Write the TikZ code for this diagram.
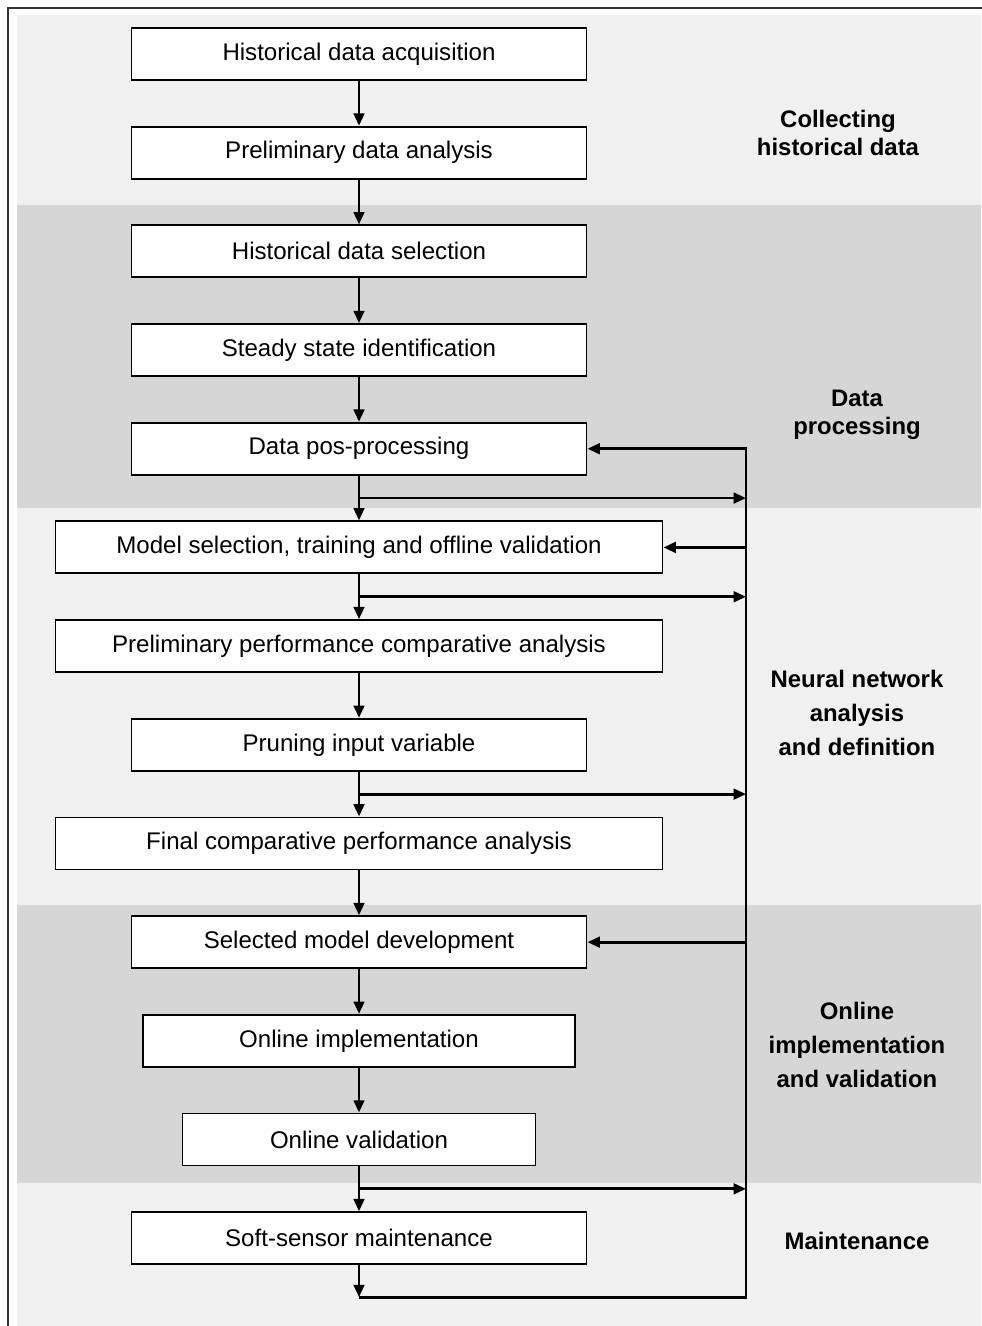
\documentclass[tikz,border=0pt]{standalone}
\usepackage{fontspec}
\setmainfont{Liberation Sans}
\usepackage{tikz}
\usetikzlibrary{arrows.meta,positioning,calc}

\begin{document}
\begin{tikzpicture}[
    % --- STYLES ---
    stage/.style={
        rectangle, draw=black, fill=white,
        line width=1.1pt,
        minimum width=9.1cm,
        minimum height=1.04cm,
        align=center, inner sep=2pt,
        font=\fontsize{13.7}{16}\selectfont
    },
    wide/.style={stage, minimum width=12.14cm},
    phase/.style={align=center, font=\bfseries\fontsize{13.6}{16}\selectfont},
    phasethree/.style={align=center, font=\bfseries\fontsize{13.6}{19.3}\selectfont},
    flow/.style={-{Triangle[length=7pt,width=6pt]}, line width=1.6pt},
    bandlight/.style={fill=black!6},
    banddark/.style={fill=black!16}
]

% ===== 1. FRAME & BANDS =====
\useasboundingbox (0,0) rectangle (19.62,-26.52);
\fill[bandlight] (0.34,-0.3) rectangle (19.62,-4.1);
\fill[banddark] (0.34,-4.1) rectangle (19.62,-10.16);
\fill[bandlight] (0.34,-10.16) rectangle (19.62,-18.1);
\fill[banddark] (0.34,-18.1) rectangle (19.62,-23.66);
\fill[bandlight] (0.34,-23.66) rectangle (19.62,-26.52);
\draw[line width=1.3pt, black!80] (0.16,-26.6) -- (0.16,-0.16) -- (19.7,-0.16);

% ===== 2. STAGE NODES =====
\def\xAxis{7.18}
\def\xBus{14.92}
\def\gap{0.895cm}

\node[stage] (acq) at (\xAxis,-1.08) {Historical data acquisition};
\node[stage, below=\gap of acq] (pre) {Preliminary data analysis};
\node[stage, below=\gap of pre] (sel) {Historical data selection};
\node[stage, below=\gap of sel] (ssi) {Steady state identification};
\node[stage, below=\gap of ssi] (pos) {Data pos-processing};
\node[wide, below=\gap of pos] (mod) {Model selection, training and offline validation};
\node[wide, below=\gap of mod] (ppa) {Preliminary performance comparative analysis};
\node[stage, below=\gap of ppa] (prn) {Pruning input variable};
\node[wide, below=\gap of prn] (fpa) {Final comparative performance analysis};
\node[stage, below=\gap of fpa] (dev) {Selected model development};
\node[stage, minimum width=8.64cm, below=\gap of dev] (oni) {Online implementation};
\node[stage, minimum width=7.06cm, below=\gap of oni] (onv) {Online validation};
\node[stage, below=\gap of onv] (mnt) {Soft-sensor maintenance};

\coordinate[below=0.64cm of mnt] (loop);
\coordinate (bus) at (\xBus,0);

% ===== 3. PHASE LABELS =====
\node[phase] (lab1) at (16.76,-2.66) {Collecting\\historical data};
\node[phase] (lab2) at (17.14,-8.29) {Data\\processing};
\node[phasethree] (lab3) at (17.14,-14.26) {Neural network\\analysis\\and definition};
\node[phasethree] (lab4) at (17.14,-20.9) {Online\\implementation\\and validation};
\node[phase] (lab5) at (17.14,-24.82) {Maintenance};

% ===== 4. CONNECTIONS =====
% -- Main flow --
\foreach \a/\b in {acq/pre, pre/sel, sel/ssi, ssi/pos, pos/mod, mod/ppa,
                   ppa/prn, prn/fpa, fpa/dev, dev/oni, oni/onv, onv/mnt}
    \draw[flow] (\a) -- (\b);
\draw[flow] (mnt) -- (loop);

% -- Branches to the feedback line --
\foreach \a/\b in {pos/mod, mod/ppa, prn/fpa, onv/mnt} {
    \coordinate (split) at ($(\a.south)!0.5!(\b.north)$);
    \draw[flow] (split) -- (split -| bus);
}

% -- Feedback line --
\draw[flow] (loop) -| (pos.east -| bus) -- (pos.east);
\draw[flow] (mod.east -| bus) -- (mod.east);
\draw[flow] (dev.east -| bus) -- (dev.east);

\end{tikzpicture}
\end{document}
